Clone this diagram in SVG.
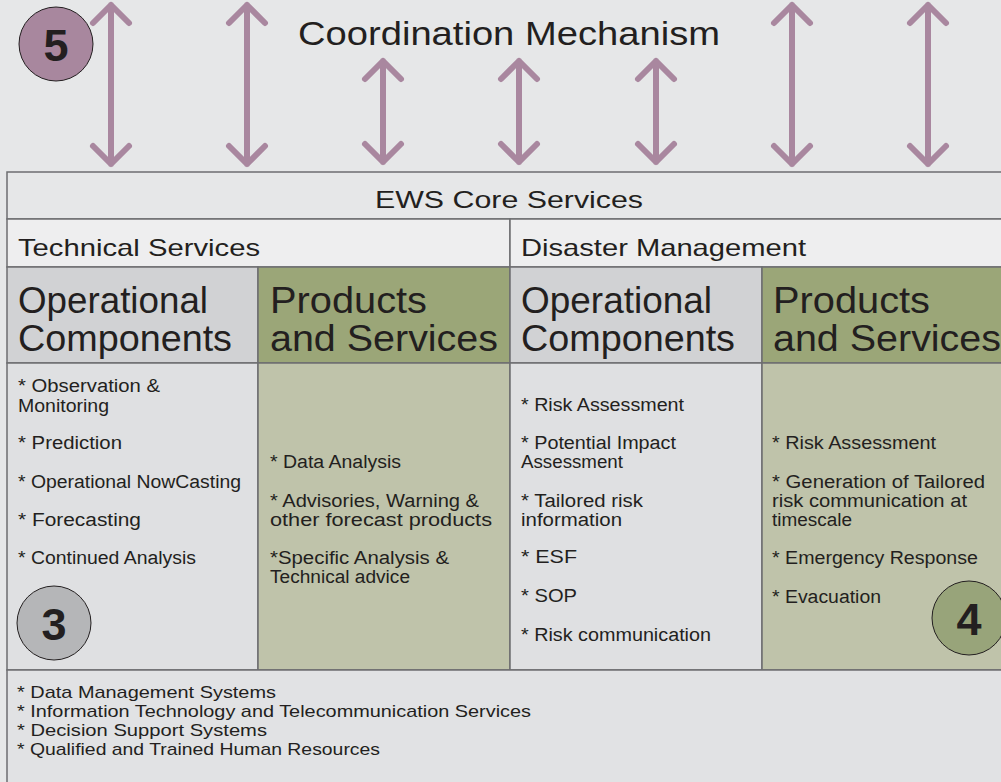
<svg xmlns="http://www.w3.org/2000/svg" width="1001" height="782" viewBox="0 0 1001 782">
<style>
.t{font-family:"Liberation Sans",Arial,sans-serif;fill:#231f20}
.h{font-size:37px}
.s{font-size:24px}
.c{font-size:18px}
.b{font-size:17px}
.n{font-family:"Liberation Sans",Arial,sans-serif;font-weight:bold;font-size:45px;fill:#231f20;text-anchor:middle}
.cell{stroke:#6d6e70;stroke-width:1.5}
.arr{fill:none;stroke:#a9879f;stroke-width:6;stroke-linecap:round;stroke-linejoin:round}
.circ{stroke:#231f20;stroke-width:1}
</style>
<rect width="1001" height="782" fill="#e6e7e8"/>

<g id="title">
<text class="t" x="298" y="45" font-size="34" textLength="422" lengthAdjust="spacingAndGlyphs">Coordination Mechanism</text>
</g>

<g id="connectors">
<path class="arr" d="M111 5V164M93 23L111 5L129 23M93 146L111 164L129 146"/>
<path class="arr" d="M247 5V164M229 23L247 5L265 23M229 146L247 164L265 146"/>
<path class="arr" d="M383 61V162M365 79L383 61L401 79M365 144L383 162L401 144"/>
<path class="arr" d="M519 61V162M501 79L519 61L537 79M501 144L519 162L537 144"/>
<path class="arr" d="M656 61V162M638 79L656 61L674 79M638 144L656 162L674 144"/>
<path class="arr" d="M792 5V164M774 23L792 5L810 23M774 146L792 164L810 146"/>
<path class="arr" d="M928 5V164M910 23L928 5L946 23M910 146L928 164L946 146"/>
</g>

<g id="core-services">
<rect class="cell" x="7" y="172" width="1000" height="47" fill="#e6e7e8"/>
<text class="t s" x="375" y="208" font-size="26" textLength="268" lengthAdjust="spacingAndGlyphs">EWS Core Services</text>
</g>

<g id="technical-services">
<rect class="cell" x="7" y="219" width="503" height="48" fill="#eeeeef"/>
<text class="t s" x="18" y="256" textLength="242" lengthAdjust="spacingAndGlyphs">Technical Services</text>
</g>

<g id="disaster-management">
<rect class="cell" x="510" y="219" width="497" height="48" fill="#eeeeef"/>
<text class="t s" x="521" y="256" textLength="285" lengthAdjust="spacingAndGlyphs">Disaster Management</text>
</g>

<g id="tech-operational">
<rect class="cell" x="7" y="267" width="251" height="96" fill="#d1d2d4"/>
<text class="t h" x="18" y="313" textLength="190" lengthAdjust="spacingAndGlyphs">Operational</text>
<text class="t h" x="18" y="351" textLength="214" lengthAdjust="spacingAndGlyphs">Components</text>
<rect class="cell" x="7" y="363" width="251" height="307" fill="#dfe0e2"/>
<text class="t c" x="18" y="392" textLength="142" lengthAdjust="spacingAndGlyphs">* Observation &amp;</text>
<text class="t c" x="18" y="412" textLength="91" lengthAdjust="spacingAndGlyphs">Monitoring</text>
<text class="t c" x="18" y="449" textLength="104" lengthAdjust="spacingAndGlyphs">* Prediction</text>
<text class="t c" x="18" y="488" textLength="223" lengthAdjust="spacingAndGlyphs">* Operational NowCasting</text>
<text class="t c" x="18" y="526" textLength="123" lengthAdjust="spacingAndGlyphs">* Forecasting</text>
<text class="t c" x="18" y="564" textLength="178" lengthAdjust="spacingAndGlyphs">* Continued Analysis</text>
</g>

<g id="tech-products">
<rect class="cell" x="258" y="267" width="252" height="96" fill="#9ba678"/>
<text class="t h" x="270" y="313" textLength="157" lengthAdjust="spacingAndGlyphs">Products</text>
<text class="t h" x="270" y="351" textLength="228" lengthAdjust="spacingAndGlyphs">and Services</text>
<rect class="cell" x="258" y="363" width="252" height="307" fill="#bfc3aa"/>
<text class="t c" x="270" y="468" textLength="131" lengthAdjust="spacingAndGlyphs">* Data Analysis</text>
<text class="t c" x="270" y="507" textLength="209" lengthAdjust="spacingAndGlyphs">* Advisories, Warning &amp;</text>
<text class="t c" x="270" y="526" textLength="222" lengthAdjust="spacingAndGlyphs">other forecast products</text>
<text class="t c" x="270" y="564" textLength="179" lengthAdjust="spacingAndGlyphs">*Specific Analysis &amp;</text>
<text class="t c" x="270" y="583" textLength="140" lengthAdjust="spacingAndGlyphs">Technical advice</text>
</g>

<g id="dm-operational">
<rect class="cell" x="510" y="267" width="252" height="96" fill="#d1d2d4"/>
<text class="t h" x="521" y="313" textLength="191" lengthAdjust="spacingAndGlyphs">Operational</text>
<text class="t h" x="521" y="351" textLength="214" lengthAdjust="spacingAndGlyphs">Components</text>
<rect class="cell" x="510" y="363" width="252" height="307" fill="#dfe0e2"/>
<text class="t c" x="521" y="411" textLength="163" lengthAdjust="spacingAndGlyphs">* Risk Assessment</text>
<text class="t c" x="521" y="449" textLength="155" lengthAdjust="spacingAndGlyphs">* Potential Impact</text>
<text class="t c" x="521" y="468" textLength="102" lengthAdjust="spacingAndGlyphs">Assessment</text>
<text class="t c" x="521" y="507" textLength="122" lengthAdjust="spacingAndGlyphs">* Tailored risk</text>
<text class="t c" x="521" y="526" textLength="101" lengthAdjust="spacingAndGlyphs">information</text>
<text class="t c" x="521" y="563" textLength="56" lengthAdjust="spacingAndGlyphs">* ESF</text>
<text class="t c" x="521" y="602" textLength="56" lengthAdjust="spacingAndGlyphs">* SOP</text>
<text class="t c" x="521" y="641" textLength="190" lengthAdjust="spacingAndGlyphs">* Risk communication</text>
</g>

<g id="dm-products">
<rect class="cell" x="762" y="267" width="245" height="96" fill="#9ba678"/>
<text class="t h" x="773" y="313" textLength="157" lengthAdjust="spacingAndGlyphs">Products</text>
<text class="t h" x="773" y="351" textLength="228" lengthAdjust="spacingAndGlyphs">and Services</text>
<rect class="cell" x="762" y="363" width="245" height="307" fill="#bfc3aa"/>
<text class="t c" x="772" y="449" textLength="164" lengthAdjust="spacingAndGlyphs">* Risk Assessment</text>
<text class="t c" x="772" y="488" textLength="213" lengthAdjust="spacingAndGlyphs">* Generation of Tailored</text>
<text class="t c" x="772" y="507" textLength="195" lengthAdjust="spacingAndGlyphs">risk communication at</text>
<text class="t c" x="772" y="526" textLength="80" lengthAdjust="spacingAndGlyphs">timescale</text>
<text class="t c" x="772" y="564" textLength="206" lengthAdjust="spacingAndGlyphs">* Emergency Response</text>
<text class="t c" x="772" y="603" textLength="109" lengthAdjust="spacingAndGlyphs">* Evacuation</text>
</g>

<g id="infrastructure">
<rect class="cell" x="7" y="670" width="1000" height="120" fill="#e1e2e4"/>
<text class="t b" x="17" y="698" textLength="259" lengthAdjust="spacingAndGlyphs">* Data Management Systems</text>
<text class="t b" x="17" y="717" textLength="514" lengthAdjust="spacingAndGlyphs">* Information Technology and Telecommunication Services</text>
<text class="t b" x="17" y="736" textLength="250" lengthAdjust="spacingAndGlyphs">* Decision Support Systems</text>
<text class="t b" x="17" y="755" textLength="363" lengthAdjust="spacingAndGlyphs">* Qualified and Trained Human Resources</text>
</g>

<g id="badge-5">
<circle class="circ" cx="56" cy="44" r="37" fill="#a8879e"/>
<text class="n" x="56" y="61">5</text>
</g>
<g id="badge-3">
<circle class="circ" cx="54" cy="623" r="37" fill="#b5b6b8"/>
<text class="n" x="54" y="640">3</text>
</g>
<g id="badge-4">
<circle class="circ" cx="969" cy="618" r="37" fill="#98a47a"/>
<text class="n" x="969" y="635">4</text>
</g>
</svg>
